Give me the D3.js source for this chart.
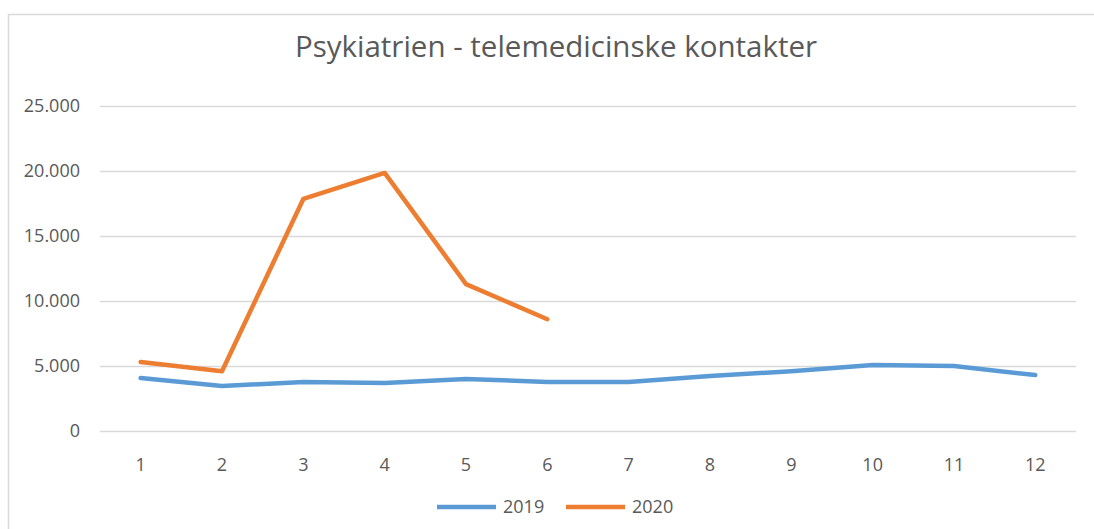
<!DOCTYPE html>
<html>
<head>
<meta charset="utf-8">
<script src="https://cdn.jsdelivr.net/npm/d3@7"></script>
<style>
  body { margin: 0; background: #fff; }
  svg { display: block; font-family: "Open Sans", "Liberation Sans", sans-serif; }
  .grid line { stroke: #d9d9d9; stroke-width: 1.3; }
  .tick text { fill: #595959; font-size: 18px; }
</style>
</head>
<body>
<svg id="chart"></svg>
<script>
// size
const width = 1094;
const height = 529;

// boundaries
const margin = { top: 106, right: 18, bottom: 98, left: 100 };
const innerWidth = width - margin.left - margin.right;
const innerHeight = height - margin.top - margin.bottom;

// data
const months = ["1", "2", "3", "4", "5", "6", "7", "8", "9", "10", "11", "12"];
const values2019 = [4080, 3460, 3770, 3700, 4000, 3770, 3770, 4230, 4600, 5080, 5000, 4300];
const values2020 = [5300, 4600, 17850, 19850, 11300, 8600];
const yTicks = [0, 5000, 10000, 15000, 20000, 25000];
const yTickLabels = ["0", "5.000", "10.000", "15.000", "20.000", "25.000"];

const series = [
    { name: "2019", color: "#5b9bd5", values: values2019 },
    { name: "2020", color: "#ed7d31", values: values2020 }
];

const svg = d3.select("#chart")
    .attr("width", width)
    .attr("height", height);

// chart frame (only top and left edges are visible)
svg.append("path")
    .attr("d", "M8.5,529 V14.5 H1094")
    .attr("fill", "none")
    .attr("stroke", "#d9d9d9")
    .attr("stroke-width", 1.5);

// title
svg.append("text")
    .attr("x", 556)
    .attr("y", 57)
    .attr("text-anchor", "middle")
    .attr("fill", "#595959")
    .style("font-size", "29.5px")
    .text("Psykiatrien - telemedicinske kontakter");

const g = svg.append("g")
    .attr("transform", `translate(${margin.left},${margin.top})`);

// scales
const xScale = d3.scaleBand()
    .domain(months)
    .range([0, innerWidth]);
const yScale = d3.scaleLinear()
    .domain([0, 25000])
    .range([innerHeight, 0]);

// drop d3's default axis font attributes so the css applies
function cleanAxis(a) {
    a.attr("font-size", null).attr("font-family", null);
    a.select(".domain").remove();
}

// y grid + labels
const yAxis = d3.axisLeft(yScale)
    .tickValues(yTicks)
    .tickSize(-innerWidth)
    .tickPadding(20)
    .tickFormat((d, i) => yTickLabels[i]);
g.append("g")
    .attr("class", "grid")
    .call(yAxis)
    .call(cleanAxis);

// x labels
const xAxis = d3.axisBottom(xScale)
    .tickSize(0)
    .tickPadding(27);
g.append("g")
    .attr("transform", `translate(0,${innerHeight})`)
    .call(xAxis)
    .call(cleanAxis);

// lines
const line = d3.line()
    .x((d, i) => xScale(months[i]) + xScale.bandwidth() / 2)
    .y(d => yScale(d));

g.selectAll(".series")
    .data(series)
    .enter()
    .append("path")
    .attr("class", "series")
    .attr("d", d => line(d.values))
    .attr("fill", "none")
    .attr("stroke", d => d.color)
    .attr("stroke-width", 4.5)
    .attr("stroke-linejoin", "round")
    .attr("stroke-linecap", "round");

// legend
const legend = svg.append("g")
    .attr("transform", "translate(437,507)");
const items = legend.selectAll("g")
    .data(series)
    .enter()
    .append("g")
    .attr("transform", (d, i) => `translate(${i * 129},0)`);
items.append("line")
    .attr("x1", 0)
    .attr("x2", 59)
    .attr("stroke", d => d.color)
    .attr("stroke-width", 4.5);
items.append("text")
    .attr("x", 66)
    .attr("y", 6)
    .attr("fill", "#595959")
    .style("font-size", "18px")
    .text(d => d.name);
</script>
</body>
</html>
